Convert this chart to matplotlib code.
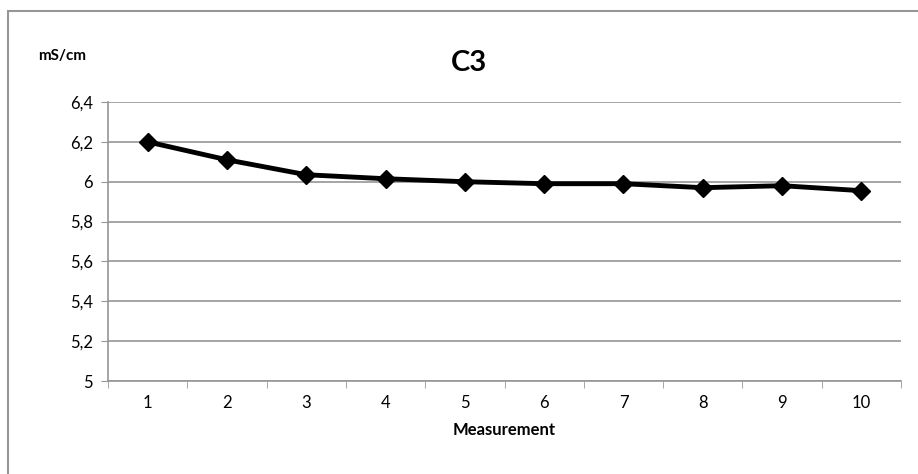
import matplotlib.pyplot as plt
import numpy as np
from matplotlib.patches import Rectangle

plt.rcParams["font.family"] = ["Lato", "DejaVu Sans"]

# Data
measurements = [1, 2, 3, 4, 5, 6, 7, 8, 9, 10]
conductivity = [6.20, 6.11, 6.035, 6.015, 6.00, 5.99, 5.99, 5.97, 5.98, 5.955]
y_ticks = [5.0, 5.2, 5.4, 5.6, 5.8, 6.0, 6.2, 6.4]
y_labels = ["5", "5,2", "5,4", "5,6", "5,8", "6", "6,2", "6,4"]

fig = plt.figure(figsize=(9.18, 4.74), dpi=100)
W, H = 918, 474
ax = fig.add_axes([108 / W, 1 - 381 / H, (901 - 108) / W, (381 - 102) / H])

grid_c = "#969696"
ax.plot(measurements, conductivity, color="black", linewidth=3.5,
        marker="D", markersize=9, markerfacecolor="black",
        markeredgecolor="black", zorder=3)

ax.set_xlim(0.5, 10.5)
ax.set_ylim(5.0, 6.4)
ax.set_yticks(y_ticks)
ax.set_yticklabels(y_labels, fontsize=12)
ax.yaxis.grid(True, color=grid_c, linewidth=1.2)
ax.set_axisbelow(True)

ax.set_xticks(measurements)
ax.set_xticklabels([str(m) for m in measurements], fontsize=12)
ax.set_xticks(np.arange(0.5, 11, 1), minor=True)
ax.tick_params(axis="x", which="major", length=0, pad=10)
ax.tick_params(axis="x", which="minor", length=5, color=grid_c, direction="out")
ax.tick_params(axis="y", length=5, color=grid_c, direction="out", pad=6)

for side in ["top", "right"]:
    ax.spines[side].set_visible(False)
for side in ["left", "bottom"]:
    ax.spines[side].set_color(grid_c)
    ax.spines[side].set_linewidth(1.2)

ax.set_xlabel("Measurement", fontsize=12, fontweight="bold", labelpad=8)
fig.text(469 / W, 1 - 63 / H, "C3", fontsize=21, fontweight="bold",
         ha="center", va="center")
fig.text(38 / W, 1 - 56 / H, "mS/cm", fontsize=11, fontweight="bold",
         ha="left", va="center")

# outer chart border (right and bottom edges fall outside the image)
fig.patches.append(Rectangle((8 / W, -10 / H), (930 - 8) / W, (474 - 11 + 10) / H,
                             transform=fig.transFigure, fill=False,
                             edgecolor=grid_c, linewidth=1.5))

fig.savefig("out.png", dpi=100)
